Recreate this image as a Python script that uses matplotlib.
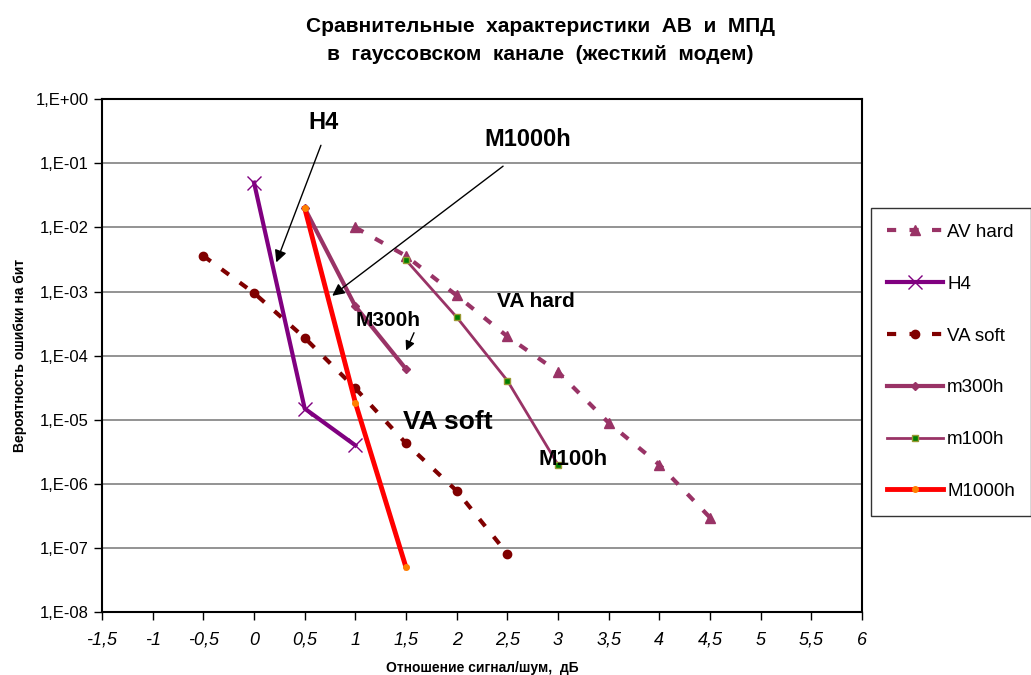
import numpy as np
import matplotlib
matplotlib.use('Agg')
import matplotlib.pyplot as plt
from matplotlib.ticker import FixedLocator, FixedFormatter

plt.rcParams['font.family'] = ['Liberation Sans', 'DejaVu Sans']

# values
av_hard_x = [1, 1.5, 2, 2.5, 3, 3.5, 4, 4.5]
av_hard_y = [1.0e-2, 3.6e-3, 8.7e-4, 2.0e-4, 5.6e-5, 9.0e-6, 2.0e-6, 3.0e-7]

h4_x = [0, 0.5, 1]
h4_y = [5.0e-2, 1.5e-5, 4.0e-6]

va_soft_x = [-0.5, 0, 0.5, 1, 1.5, 2, 2.5]
va_soft_y = [3.6e-3, 9.5e-4, 1.9e-4, 3.1e-5, 4.3e-6, 7.8e-7, 8.2e-8]

m300_x = [0.5, 1, 1.5]
m300_y = [2.0e-2, 5.9e-4, 6.2e-5]

m100_x = [1.5, 2, 2.5, 3]
m100_y = [3.1e-3, 4.0e-4, 4.1e-5, 2.0e-6]

m1000_x = [0.5, 1, 1.5]
m1000_y = [2.0e-2, 1.85e-5, 5.0e-8]

x_ticks = np.arange(-1.5, 6.01, 0.5)
x_labels = ['-1,5', '-1', '-0,5', '0', '0,5', '1', '1,5', '2', '2,5', '3',
            '3,5', '4', '4,5', '5', '5,5', '6']
y_ticks = [1e0, 1e-1, 1e-2, 1e-3, 1e-4, 1e-5, 1e-6, 1e-7, 1e-8]
y_labels = ['1,E+00', '1,E-01', '1,E-02', '1,E-03', '1,E-04', '1,E-05',
            '1,E-06', '1,E-07', '1,E-08']

fig = plt.figure(figsize=(10.31, 6.75), dpi=100)
ax = fig.add_axes([0.099, 0.093, 0.737, 0.760])

ax.set_yscale('log')
ax.set_xlim(-1.5, 6)
ax.set_ylim(1e-8, 1)

for y in y_ticks[1:-1]:
    ax.axhline(y, color='#808080', linewidth=1.2, zorder=0)

purple = '#993366'
ax.plot(av_hard_x, av_hard_y, color=purple, linewidth=3, dashes=(2.2, 3.2),
        marker='^', markersize=7, label='AV hard', zorder=3)
ax.plot(h4_x, h4_y, color='#800080', linewidth=3, marker='x', markersize=10,
        markeredgewidth=1, label='H4', zorder=4)
ax.plot(va_soft_x, va_soft_y, color='#800000', linewidth=3, dashes=(2.2, 3.2),
        marker='o', markersize=6, label='VA soft', zorder=3)
ax.plot(m300_x, m300_y, color=purple, linewidth=3, marker='D', markersize=4,
        label='m300h', zorder=3)
ax.plot(m100_x, m100_y, color=purple, linewidth=2, marker='s', markersize=5,
        markerfacecolor='#008000', markeredgecolor='#999933', label='m100h',
        zorder=3)
ax.plot(m1000_x, m1000_y, color='#ff0000', linewidth=3.5, marker='o',
        markersize=4, markerfacecolor='#ff8000', markeredgecolor='#ff8000',
        label='M1000h', zorder=5)

# annotations with arrows
arrow = dict(arrowstyle='-|>', color='black', linewidth=1, mutation_scale=18)
ax.annotate('', xy=(0.21, 2.6e-3), xytext=(0.67, 2.1e-1), arrowprops=arrow)
ax.annotate('', xy=(0.75, 8.1e-4), xytext=(2.48, 9.6e-2), arrowprops=arrow)
ax.annotate('', xy=(1.49, 1.1e-4), xytext=(1.59, 2.5e-4),
            arrowprops=dict(arrowstyle='-|>', color='black', linewidth=1,
                            mutation_scale=14))
ax.text(0.54, 4.3e-1, 'H4', fontsize=17, fontweight='bold',
        ha='left', va='center')
ax.text(2.27, 2.35e-1, 'M1000h', fontsize=17, fontweight='bold',
        ha='left', va='center')
ax.text(1.0, 3.6e-4, 'M300h', fontsize=15, fontweight='bold',
        ha='left', va='center')
ax.text(2.4, 7.0e-4, 'VA hard', fontsize=15, fontweight='bold',
        ha='left', va='center')
ax.text(1.47, 9.3e-6, 'VA soft', fontsize=19, fontweight='bold',
        ha='left', va='center')
ax.text(2.81, 2.4e-6, 'M100h', fontsize=16, fontweight='bold',
        ha='left', va='center')

ax.xaxis.set_major_locator(FixedLocator(x_ticks))
ax.xaxis.set_major_formatter(FixedFormatter(x_labels))
ax.yaxis.set_major_locator(FixedLocator(y_ticks))
ax.yaxis.set_major_formatter(FixedFormatter(y_labels))
ax.yaxis.set_minor_locator(FixedLocator([]))
for lab in ax.get_xticklabels():
    lab.set_fontstyle('italic')
    lab.set_fontsize(13)
for lab in ax.get_yticklabels():
    lab.set_fontsize(12)
ax.tick_params(axis='both', direction='out', length=6, width=1, color='black')
ax.tick_params(axis='x', pad=8)

for sp in ax.spines.values():
    sp.set_color('black')
    sp.set_linewidth(1.5)

ax.set_xlabel('Отношение сигнал/шум,  дБ', fontsize=10, fontweight='bold',
              labelpad=9)
ax.set_ylabel('Вероятность ошибки на бит', fontsize=10, fontweight='bold',
              labelpad=6)

fig.text(0.524, 0.961, 'Сравнительные  характеристики  АВ  и  МПД',
         fontsize=15, fontweight='bold', ha='center', va='center')
fig.text(0.524, 0.920, 'в  гауссовском  канале  (жесткий  модем)',
         fontsize=15, fontweight='bold', ha='center', va='center')

leg = fig.legend(loc='upper left', bbox_to_anchor=(0.845, 0.692),
                 frameon=True, fancybox=False, edgecolor='black',
                 fontsize=13.5, labelspacing=1.85, handlelength=3.0,
                 handletextpad=0.2, borderpad=0.85, borderaxespad=0)
leg.get_frame().set_linewidth(1)

fig.savefig('out.png', dpi=100)
